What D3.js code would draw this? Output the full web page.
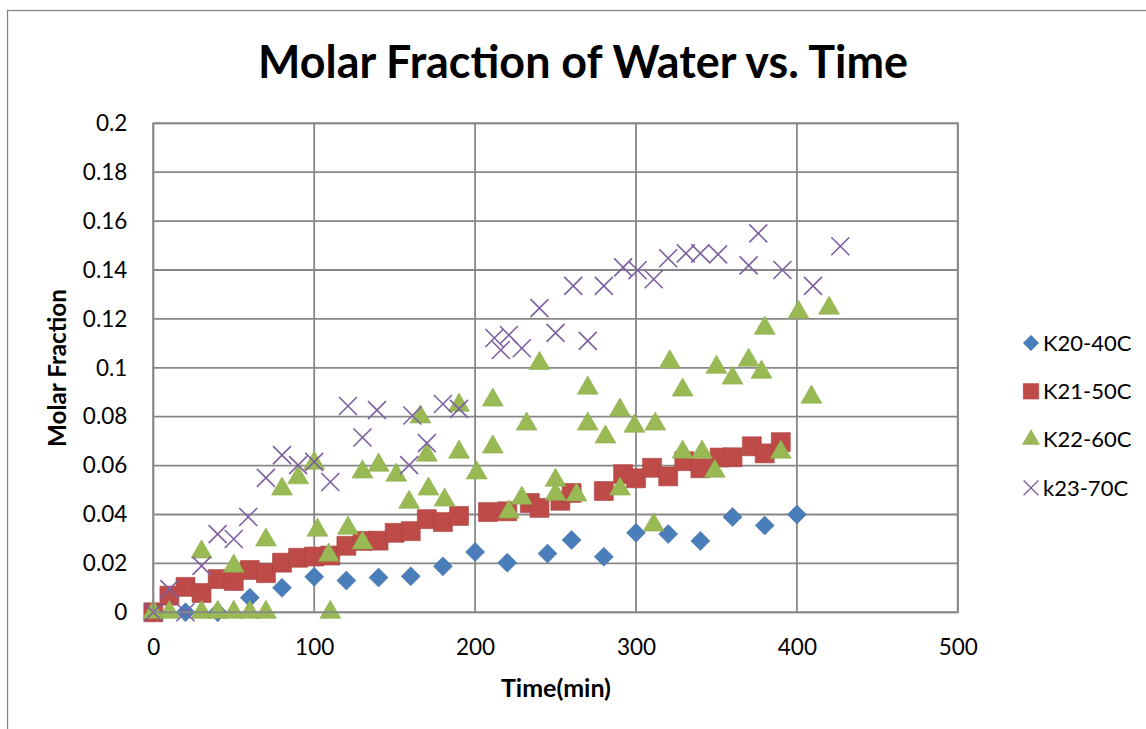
<!DOCTYPE html>
<html>
<head>
<meta charset="utf-8">
<script src="https://cdn.jsdelivr.net/npm/d3@7"></script>
<style>
  html, body { margin: 0; padding: 0; background: #fff; }
  svg { display: block; }
</style>
</head>
<body>
<div id="chart"></div>
<script>
// series data
const k20Time = [0, 20, 40, 60, 80, 100, 120, 140, 160, 180, 200, 220, 245, 260, 280, 300, 320, 340, 360, 380, 400];
const k20Frac = [0, 0, 0, 0.006, 0.010, 0.0145, 0.013, 0.0142, 0.0147, 0.0188, 0.0247, 0.0203, 0.024, 0.0296, 0.0227, 0.0325, 0.032, 0.0292, 0.039, 0.0355, 0.040];

const k21Time = [0, 10, 20, 30, 40, 50, 60, 70, 80, 90, 100, 110, 120, 130, 140, 150, 160, 170, 180, 190, 208, 220, 234, 240, 253, 260, 280, 292, 300, 310, 320, 330, 340, 352, 360, 372, 380, 390];
const k21Frac = [0, 0.0068, 0.0104, 0.0079, 0.0136, 0.0128, 0.0173, 0.016, 0.0203, 0.0223, 0.0228, 0.0232, 0.0272, 0.0292, 0.0293, 0.0325, 0.0332, 0.0381, 0.0369, 0.0394, 0.041, 0.0413, 0.0447, 0.0427, 0.0456, 0.0488, 0.0496, 0.0565, 0.0548, 0.0591, 0.0556, 0.0618, 0.0589, 0.0633, 0.0634, 0.0679, 0.065, 0.0696];

const k22Time = [0, 10, 30, 30, 40, 50, 50, 60, 70, 70, 80, 90, 100, 102, 109, 110, 121, 130, 130, 140, 151, 159, 166, 170, 171, 181, 190, 190, 201, 211, 211, 221, 229, 232, 240, 250, 250, 263, 270, 270, 281, 290, 290, 299, 311, 312, 321, 329, 329, 341, 349, 350, 360, 370, 378, 380, 390, 401, 409, 420];
const k22Frac = [0, 0, 0.0247, 0, 0, 0.0189, 0, 0, 0.0296, 0, 0.0504, 0.055, 0.061, 0.0336, 0.0234, 0, 0.0344, 0.0284, 0.0574, 0.0602, 0.0561, 0.045, 0.0799, 0.0643, 0.0504, 0.0459, 0.0655, 0.0847, 0.057, 0.0676, 0.0868, 0.041, 0.0467, 0.077, 0.1018, 0.054, 0.0483, 0.048, 0.077, 0.0917, 0.0717, 0.0827, 0.0504, 0.0761, 0.0357, 0.077, 0.1024, 0.0909, 0.0655, 0.0655, 0.0577, 0.1002, 0.0958, 0.1031, 0.0982, 0.1162, 0.0655, 0.1227, 0.088, 0.1244];

const k23Time = [0, 10, 20, 30, 40, 50, 59, 70, 80, 90, 100, 110, 121, 130, 139, 159, 161, 170, 180, 190, 212, 216, 221, 229, 240, 250, 261, 270, 280, 292, 301, 311, 320, 331, 340, 351, 370, 376, 391, 410, 427];
const k23Frac = [0, 0.0095, 0, 0.019, 0.032, 0.030, 0.039, 0.055, 0.0643, 0.0602, 0.0615, 0.0533, 0.0844, 0.0715, 0.0827, 0.0602, 0.0805, 0.0692, 0.0852, 0.0832, 0.1122, 0.1073, 0.1134, 0.108, 0.1244, 0.1143, 0.1335, 0.111, 0.1335, 0.1411, 0.1399, 0.1362, 0.1448, 0.1468, 0.1468, 0.1464, 0.1419, 0.155, 0.140, 0.1335, 0.1497];

const seriesNames = ['K20-40C', 'K21-50C', 'K22-60C', 'k23-70C'];
const xTicks = [0, 100, 200, 300, 400, 500];
const yTicks = [0, 0.02, 0.04, 0.06, 0.08, 0.1, 0.12, 0.14, 0.16, 0.18, 0.2];

const width = 1146, height = 729;
const margin = {top: 123.3, left: 153.3};
const plotW = 804.5, plotH = 489;
const gridColor = '#878787';
const font = 'Lato, "Open Sans", "Liberation Sans", sans-serif';

const series = [
  {name: seriesNames[0], xs: k20Time, ys: k20Frac, color: '#4A7EBB', shape: 'diamond'},
  {name: seriesNames[1], xs: k21Time, ys: k21Frac, color: '#BE4B48', shape: 'square'},
  {name: seriesNames[2], xs: k22Time, ys: k22Frac, color: '#98B954', shape: 'triangle'},
  {name: seriesNames[3], xs: k23Time, ys: k23Frac, color: '#7D60A0', shape: 'cross'}
];

const svg = d3.select('#chart').append('svg')
  .attr('width', width)
  .attr('height', height);

// outer chart frame (runs off the right and bottom edge)
svg.append('rect')
  .attr('x', 7.5).attr('y', 10.5)
  .attr('width', width + 20).attr('height', height + 20)
  .attr('fill', '#fff')
  .attr('stroke', gridColor)
  .attr('stroke-width', 1.3);

const xScale = d3.scaleLinear().domain([0, 500]).range([0, plotW]);
const yScale = d3.scaleLinear().domain([0, 0.2]).range([plotH, 0]);

const g = svg.append('g')
  .attr('transform', 'translate(' + margin.left + ',' + margin.top + ')');

// gridlines
g.append('g')
  .selectAll('line')
  .data(yTicks)
  .join('line')
  .attr('x1', 0).attr('x2', plotW)
  .attr('y1', d => yScale(d)).attr('y2', d => yScale(d))
  .attr('stroke', gridColor)
  .attr('stroke-width', 1.8);

g.append('g')
  .selectAll('line')
  .data(xTicks)
  .join('line')
  .attr('x1', d => xScale(d)).attr('x2', d => xScale(d))
  .attr('y1', 0).attr('y2', plotH)
  .attr('stroke', gridColor)
  .attr('stroke-width', 1.8);

// axes (labels only, Excel style)
const yAxis = g.append('g')
  .call(d3.axisLeft(yScale).tickValues(yTicks).tickSize(0).tickPadding(26)
    .tickFormat(d => String(+d.toFixed(2))));
yAxis.select('.domain').remove();
yAxis.selectAll('text')
  .attr('font-family', font).attr('font-size', 22.5).attr('fill', '#000');

const xAxis = g.append('g')
  .attr('transform', 'translate(0,' + plotH + ')')
  .call(d3.axisBottom(xScale).tickValues(xTicks).tickSize(0).tickPadding(27)
    .tickFormat(d3.format('d')));
xAxis.select('.domain').remove();
xAxis.selectAll('text')
  .attr('font-family', font).attr('font-size', 22.5).attr('fill', '#000');

// markers
function marker(sel, shape, color) {
  if (shape === 'diamond') {
    sel.append('path')
      .attr('d', d3.symbol().type(d3.symbolDiamond2).size(230)())
      .attr('fill', color).attr('stroke', d3.color(color).darker(0.3)).attr('stroke-width', 0.6);
  } else if (shape === 'square') {
    sel.append('path')
      .attr('d', d3.symbol().type(d3.symbolSquare).size(360)())
      .attr('fill', color).attr('stroke', d3.color(color).darker(0.3)).attr('stroke-width', 0.6);
  } else if (shape === 'triangle') {
    sel.append('path')
      .attr('d', d3.symbol().type(d3.symbolTriangle).size(190)())
      .attr('fill', color).attr('stroke', d3.color(color).darker(0.2)).attr('stroke-width', 0.6);
  } else {
    sel.append('path')
      .attr('d', 'M-9,-9L9,9M-9,9L9,-9')
      .attr('fill', 'none').attr('stroke', color).attr('stroke-width', 1.6);
  }
}

series.forEach(s => {
  const pts = s.xs.map((x, i) => ({x: x, y: s.ys[i]}));
  g.append('g')
    .selectAll('g')
    .data(pts)
    .join('g')
    .attr('transform', d => 'translate(' + xScale(d.x) + ',' + yScale(d.y) + ')')
    .each(function() { marker(d3.select(this), s.shape, s.color); });
});

// plot border on top of grid
g.append('rect')
  .attr('x', 0).attr('y', 0)
  .attr('width', plotW).attr('height', plotH)
  .attr('fill', 'none')
  .attr('stroke', gridColor)
  .attr('stroke-width', 1.8);

// fit a text node to a target width
function fitWidth(sel, base, target) {
  const w = sel.node().getComputedTextLength();
  sel.attr('font-size', base * target / w);
}

const title = svg.append('text')
  .attr('x', 583).attr('y', 78)
  .attr('text-anchor', 'middle')
  .attr('font-family', font)
  .attr('font-weight', 'bold')
  .attr('font-size', 44)
  .text('Molar Fraction of Water vs. Time');
fitWidth(title, 44, 650);

// axis titles
const yTitle = svg.append('text')
  .attr('transform', 'translate(66,368) rotate(-90)')
  .attr('text-anchor', 'middle')
  .attr('font-family', font).attr('font-weight', 'bold').attr('font-size', 20)
  .text('Molar Fraction');
fitWidth(yTitle, 20, 158);

const xTitle = svg.append('text')
  .attr('x', 556).attr('y', 697)
  .attr('text-anchor', 'middle')
  .attr('font-family', font).attr('font-weight', 'bold').attr('font-size', 21)
  .text('Time(min)');
fitWidth(xTitle, 21, 110);

// legend
const legend = svg.append('g');
series.forEach((s, i) => {
  const row = legend.append('g')
    .attr('transform', 'translate(0,' + (343 + i * 48.3) + ')');
  const m = row.append('g').attr('transform', 'translate(1031,0) scale(0.82)');
  marker(m, s.shape, s.color);
  row.append('text')
    .attr('x', 1043).attr('y', 0)
    .attr('dy', '0.35em')
    .attr('font-family', font).attr('font-size', 22)
    .text(s.name);
});
</script>
</body>
</html>
